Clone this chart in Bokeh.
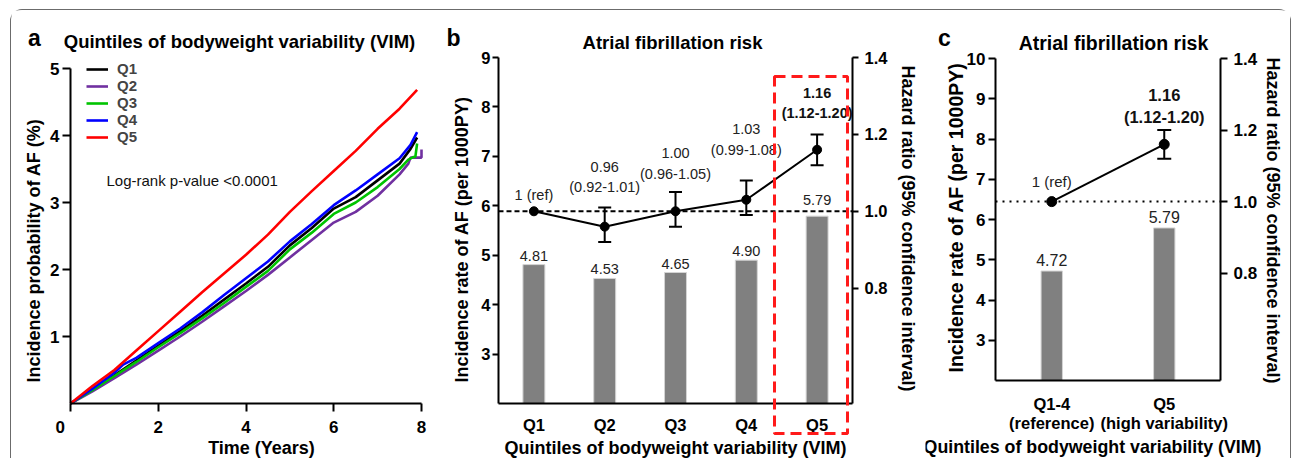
from math import pi
from bokeh.plotting import figure
from bokeh.models import (Range1d, LinearAxis, FixedTicker, ColumnDataSource,
                          Whisker, TeeHead, BoxAnnotation, Label, Legend, LegendItem,
                          PrintfTickFormatter)
from bokeh.layouts import row
from bokeh.embed import file_html
from bokeh.resources import INLINE
from bokeh.core.properties import value

FONT = "Liberation Sans"

# ---------------- data: panel a (cumulative incidence, %) ----------------
km_names = ["Q1", "Q2", "Q3", "Q4", "Q5"]
km_colors = ["#000000", "#7030a0", "#00c400", "#0000ff", "#ff0000"]
q1_time = [0, 0.5, 1, 1.5, 2, 2.5, 3, 3.5, 4, 4.5, 5, 5.5, 6, 6.5, 7, 7.5, 7.75, 7.9]
q1_prob = [0, 0.21, 0.42, 0.64, 0.86, 1.08, 1.31, 1.55, 1.79, 2.04, 2.36, 2.62, 2.91, 3.08, 3.33, 3.58, 3.80, 3.97]
q2_time = [0, 0.5, 1, 1.5, 2, 2.5, 3, 3.5, 4, 4.5, 5, 5.5, 6, 6.5, 7, 7.5, 7.7, 7.75, 8.0, 8.0]
q2_prob = [0, 0.18, 0.38, 0.58, 0.79, 1.00, 1.22, 1.45, 1.68, 1.92, 2.18, 2.44, 2.70, 2.86, 3.10, 3.42, 3.58, 3.67, 3.67, 3.79]
q3_time = [0, 0.5, 1, 1.5, 2, 2.5, 3, 3.5, 4, 4.5, 5, 5.5, 6, 6.5, 7, 7.5, 7.7, 7.82, 7.86, 7.9]
q3_prob = [0, 0.20, 0.41, 0.62, 0.84, 1.05, 1.27, 1.50, 1.74, 1.98, 2.30, 2.55, 2.83, 3.00, 3.23, 3.50, 3.64, 3.68, 3.68, 3.88]
q4_time = [0, 0.5, 1, 1.2, 1.5, 2, 2.5, 3, 3.5, 4, 4.5, 5, 5.5, 6, 6.5, 7, 7.5, 7.75, 7.9]
q4_prob = [0, 0.22, 0.46, 0.58, 0.68, 0.90, 1.12, 1.36, 1.62, 1.87, 2.12, 2.42, 2.68, 2.96, 3.18, 3.42, 3.66, 3.86, 4.05]
q5_time = [0, 0.5, 1, 1.5, 2, 2.5, 3, 3.5, 4, 4.5, 5, 5.5, 6, 6.5, 7, 7.5, 7.9]
q5_prob = [0, 0.26, 0.50, 0.79, 1.08, 1.37, 1.66, 1.94, 2.22, 2.52, 2.86, 3.17, 3.47, 3.77, 4.10, 4.40, 4.68]
km_time = [q1_time, q2_time, q3_time, q4_time, q5_time]
km_prob = [q1_prob, q2_prob, q3_prob, q4_prob, q5_prob]
km_xticks = [0, 2, 4, 6, 8]
km_yticks = [1, 2, 3, 4, 5]

# ---------------- data: panel b ----------------
quintiles = ["Q1", "Q2", "Q3", "Q4", "Q5"]
incidence_b = [4.81, 4.53, 4.65, 4.90, 5.79]
hr_b = [1.00, 0.96, 1.00, 1.03, 1.16]
hr_low_b = [None, 0.92, 0.96, 0.99, 1.12]
hr_up_b = [None, 1.01, 1.05, 1.08, 1.20]

# ---------------- data: panel c ----------------
groups_c = ["Q1-4", "Q5"]
group_sub_c = ["(reference)", "(high variability)"]
incidence_c = [4.72, 5.79]
hr_c = [1.00, 1.16]
hr_low_c = [None, 1.12]
hr_up_c = [None, 1.20]

inc_ticks_b = [3, 4, 5, 6, 7, 8, 9]
inc_ticks_c = [3, 4, 5, 6, 7, 8, 9, 10]
hr_ticks = [0.8, 1.0, 1.2, 1.4]

# ---------------- layout geometry (page pixels) ----------------
TOP, BOTTOM = 10, 458
CANVAS = {"a": (11, 440), "b": (440, 925), "c": (925, 1290)}
AXBOX = {  # pixel positions of the axis bounds: left, right, top, bottom
    "a": (70, 421, 68, 403),
    "b": (498, 852, 57, 403),
    "c": (995, 1220, 58, 380),
}


def xr_full(key, lo, hi):
    L, R, _, _ = AXBOX[key]
    cl, cr = CANVAS[key]
    s = (hi - lo) / (R - L)
    return Range1d(lo + (cl - L) * s, lo + (cr - L) * s)


def yr_full(key, lo, hi):
    _, _, T, B = AXBOX[key]
    s = (hi - lo) / (B - T)
    return Range1d(lo - (BOTTOM - B) * s, hi + (T - TOP) * s)


def converter(key, xb, yb):
    L, R, T, B = AXBOX[key]

    def conv(gx, gy):
        x = xb[0] + (gx - L) / (R - L) * (xb[1] - xb[0])
        y = yb[0] + (B - gy) / (B - T) * (yb[1] - yb[0])
        return x, y
    return conv


def make_fig(key, xb, yb):
    cl, cr = CANVAS[key]
    p = figure(width=cr - cl, height=BOTTOM - TOP, x_range=xr_full(key, *xb),
               y_range=yr_full(key, *yb), output_backend="svg", toolbar_location=None,
               title=None, min_border=0)
    p.outline_line_color = None
    p.xgrid.visible = False
    p.ygrid.visible = False
    p.background_fill_color = "white"
    p.border_fill_color = "white"
    p.xaxis.fixed_location = yb[0]
    p.xaxis.bounds = xb
    p.yaxis.fixed_location = xb[0]
    p.yaxis.bounds = yb
    return p


def style_axis(ax, size, tick_out, standoff):
    ax.axis_line_width = 2
    ax.axis_line_color = "black"
    ax.major_tick_line_width = 2
    ax.major_tick_line_color = "black"
    ax.major_tick_in = 0
    ax.major_tick_out = tick_out
    ax.minor_tick_line_color = None
    ax.major_label_standoff = standoff
    ax.major_label_text_font = FONT
    ax.major_label_text_font_size = f"{size}px"
    ax.major_label_text_font_style = "bold"
    ax.major_label_text_color = "black"


def label(p, conv, gx, gy, text, size, bold=True, angle=0.0, align="center",
          baseline="middle", color="black", **kw):
    x, y = conv(gx, gy)
    p.add_layout(Label(x=x, y=y, text=text, text_font=FONT, text_font_size=f"{size}px",
                       text_font_style="bold" if bold else "normal", angle=angle,
                       text_align=align, text_baseline=baseline, text_color=color, **kw))


# =============== panel a ===============
xb_a, yb_a = (0, 8), (0, 5)
pa = make_fig("a", xb_a, yb_a)
ca = converter("a", xb_a, yb_a)
pa.xaxis.ticker = FixedTicker(ticks=km_xticks)
pa.yaxis.ticker = FixedTicker(ticks=km_yticks)
pa.xaxis.major_label_overrides = {0: "0\u2003\u2009"}
style_axis(pa.xaxis[0], 17, 8, 6)
style_axis(pa.yaxis[0], 17, 8, 3)

items = []
for name, col, t, v in zip(km_names, km_colors, km_time, km_prob):
    r = pa.line(t, v, line_color=col, line_width=2.6)
    items.append(LegendItem(label=name, renderers=[r]))
leg = Legend(items=items, location=(75, 313), padding=0, margin=0, spacing=-4,
             glyph_width=22, glyph_height=14, label_height=14, label_standoff=9,
             label_text_font=FONT, label_text_font_size="15px", label_text_font_style="bold",
             label_text_line_height=0.95,
             border_line_color=None, background_fill_alpha=0)
pa.add_layout(leg)

label(pa, ca, 34, 37, "a", 23, baseline="alphabetic")
label(pa, ca, 239, 41, "Quintiles of bodyweight variability (VIM)", 18.5, baseline="alphabetic")
label(pa, ca, 106, 180, "Log-rank p-value <0.0001", 15, bold=False, align="left", color="#111")
label(pa, ca, 33, 250, "Incidence probability of AF (%)", 18, angle=pi / 2)
label(pa, ca, 261, 447, "Time (Years)", 18, baseline="alphabetic")

# =============== panel b ===============
xb_b, yb_b, hb_b = (0, len(quintiles)), (2, 9), (0.5, 1.4)
pb = make_fig("b", xb_b, yb_b)
cb = converter("b", xb_b, yb_b)
pb.extra_y_ranges = {"hr": yr_full("b", *hb_b)}
xpos_b = [i + 0.5 for i in range(len(quintiles))]
pb.xaxis.ticker = FixedTicker(ticks=xpos_b)
pb.xaxis.major_label_overrides = dict(zip(xpos_b, quintiles))
pb.yaxis.ticker = FixedTicker(ticks=inc_ticks_b)
style_axis(pb.yaxis[0], 16.5, 6, 2)
style_axis(pb.xaxis[0], 16.5, 0, 12)
rax = LinearAxis(y_range_name="hr", ticker=FixedTicker(ticks=hr_ticks),
                 formatter=PrintfTickFormatter(format="%.1f"),
                 fixed_location=xb_b[1], bounds=hb_b)
style_axis(rax, 16.5, 6, 6)
pb.add_layout(rax, "right")

pb.vbar(x=xpos_b, top=incidence_b, bottom=yb_b[0], width=0.31,
        fill_color="#808080", line_color="#d4d4d4", line_width=1)
bar_lift_b = [4, 4, 4, 4, 11]
pb.text(x=xpos_b, y=incidence_b, text=[f"{v:.2f}" for v in incidence_b],
        y_offset=[-l for l in bar_lift_b], text_align="center", text_baseline="bottom",
        text_font=value(FONT), text_font_size="14.5px", text_color="#222")

pb.segment(x0=[xb_b[0]], x1=[xb_b[1]], y0=[1.0], y1=[1.0], y_range_name="hr",
           line_color="black", line_width=2, line_dash="5 3")
pb.line(xpos_b, hr_b, y_range_name="hr", line_color="black", line_width=2)
wi = [i for i, lo in enumerate(hr_low_b) if lo is not None]
wsrc_b = ColumnDataSource(dict(base=[xpos_b[i] for i in wi], lower=[hr_low_b[i] for i in wi],
                               upper=[hr_up_b[i] for i in wi]))
pb.add_layout(Whisker(base="base", lower="lower", upper="upper", source=wsrc_b, y_range_name="hr",
                      line_width=2, line_color="black",
                      upper_head=TeeHead(size=13, line_width=2, line_color="black"),
                      lower_head=TeeHead(size=13, line_width=2, line_color="black")))
pb.scatter(xpos_b, hr_b, y_range_name="hr", size=9, fill_color="black", line_color="black")

hr_text_b = ["1 (ref)" if lo is None else f"{h:.2f}\n({lo:.2f}-{up:.2f})"
             for h, lo, up in zip(hr_b, hr_low_b, hr_up_b)]
hr_anchor_b = [h if up is None else up for h, up in zip(hr_b, hr_up_b)]
hr_lift_b = [8, 12, 10, 23, 13]
n = len(quintiles)
normal_idx = list(range(n - 1))
pb.text(x=[xpos_b[i] for i in normal_idx], y=[hr_anchor_b[i] for i in normal_idx],
        text=[hr_text_b[i] for i in normal_idx], y_offset=[-hr_lift_b[i] for i in normal_idx],
        y_range_name="hr", text_align="center", text_baseline="bottom", text_line_height=1.3,
        text_font=value(FONT), text_font_size="14.5px", text_color="#222")
pb.text(x=[xpos_b[-1]], y=[hr_anchor_b[-1]], text=[hr_text_b[-1]], y_offset=[-hr_lift_b[-1]],
        y_range_name="hr", text_align="center", text_baseline="bottom", text_line_height=1.3,
        text_font=value(FONT), text_font_size="14.5px", text_font_style="bold", text_color="#111")

# highlight box around Q5
bl, bt = cb(774, 76)
br, bbm = cb(847, 433)
pb.add_layout(BoxAnnotation(left=bl, right=br, top=bt, bottom=bbm, fill_alpha=0,
                            line_color="#ff1a1a", line_alpha=1.0, line_width=3, line_dash="11 6"))

label(pb, cb, 453, 37, "b", 23, baseline="alphabetic")
label(pb, cb, 672, 42, "Atrial fibrillation risk", 18.5, baseline="alphabetic")
label(pb, cb, 461, 239, "Incidence rate of AF (per 1000PY)", 18, angle=pi / 2)
label(pb, cb, 907, 228, "Hazard ratio (95% confidence interval)", 18, angle=-pi / 2)
label(pb, cb, 675, 447, "Quintiles of bodyweight variability (VIM)", 18, baseline="alphabetic")

# =============== panel c ===============
xb_c, yb_c, hb_c = (0, len(groups_c)), (2, 10), (0.5, 1.4)
pc = make_fig("c", xb_c, yb_c)
cc = converter("c", xb_c, yb_c)
pc.extra_y_ranges = {"hr": yr_full("c", *hb_c)}
xpos_c = [i + 0.5 for i in range(len(groups_c))]
pc.xaxis.ticker = FixedTicker(ticks=xpos_c)
pc.xaxis.major_label_overrides = dict(zip(xpos_c, groups_c))
pc.yaxis.ticker = FixedTicker(ticks=inc_ticks_c)
style_axis(pc.yaxis[0], 17, 7, 3)
style_axis(pc.xaxis[0], 16.5, 0, 14)
rax_c = LinearAxis(y_range_name="hr", ticker=FixedTicker(ticks=hr_ticks),
                   formatter=PrintfTickFormatter(format="%.1f"),
                   fixed_location=xb_c[1], bounds=hb_c)
style_axis(rax_c, 17, 7, 6)
pc.add_layout(rax_c, "right")

pc.vbar(x=xpos_c, top=incidence_c, bottom=yb_c[0], width=0.19,
        fill_color="#808080", line_color="#d4d4d4", line_width=1)
pc.text(x=xpos_c, y=incidence_c, text=[f"{v:.2f}" for v in incidence_c], y_offset=-5,
        text_align="center", text_baseline="bottom",
        text_font=value(FONT), text_font_size="16px", text_color="#222")

pc.segment(x0=[xb_c[0]], x1=[xb_c[1]], y0=[1.0], y1=[1.0], y_range_name="hr",
           line_color="black", line_width=2, line_dash="2 5")
pc.line(xpos_c, hr_c, y_range_name="hr", line_color="black", line_width=2)
wi_c = [i for i, lo in enumerate(hr_low_c) if lo is not None]
wsrc_c = ColumnDataSource(dict(base=[xpos_c[i] for i in wi_c], lower=[hr_low_c[i] for i in wi_c],
                               upper=[hr_up_c[i] for i in wi_c]))
pc.add_layout(Whisker(base="base", lower="lower", upper="upper", source=wsrc_c, y_range_name="hr",
                      line_width=2, line_color="black",
                      upper_head=TeeHead(size=14, line_width=2, line_color="black"),
                      lower_head=TeeHead(size=14, line_width=2, line_color="black")))
pc.scatter(xpos_c, hr_c, y_range_name="hr", size=10, fill_color="black", line_color="black")
hr_text_c = ["1 (ref)" if lo is None else f"{h:.2f}\n({lo:.2f}-{up:.2f})"
             for h, lo, up in zip(hr_c, hr_low_c, hr_up_c)]
hr_anchor_c = [h if up is None else up for h, up in zip(hr_c, hr_up_c)]
pc.text(x=[xpos_c[0]], y=[hr_anchor_c[0]], text=[hr_text_c[0]], y_offset=[-12],
        y_range_name="hr", text_align="center", text_baseline="bottom",
        text_font=value(FONT), text_font_size="15px", text_color="#222")
pc.text(x=[xpos_c[1]], y=[hr_anchor_c[1]], text=[hr_text_c[1]], y_offset=[-4],
        y_range_name="hr", text_align="center", text_baseline="bottom", text_line_height=1.25,
        text_font=value(FONT), text_font_size="16.5px", text_font_style="bold", text_color="#111")

for xp, sub in zip(xpos_c, group_sub_c):
    pc.add_layout(Label(x=xp, y=cc(0, 422)[1], text=sub, text_font=FONT,
                        text_font_size="16.5px", text_font_style="bold",
                        text_align="center", text_baseline="middle", text_color="black"))

label(pc, cc, 944, 37, "c", 23, baseline="alphabetic")
label(pc, cc, 1113, 42, "Atrial fibrillation risk", 19.5, baseline="alphabetic")
label(pc, cc, 955, 217, "Incidence rate of AF (per 1000PY)", 19.5, angle=pi / 2)
label(pc, cc, 1272, 220, "Hazard ratio (95% confidence interval)", 18, angle=-pi / 2)
label(pc, cc, 1092, 446, "Quintiles of bodyweight variability (VIM)", 17.8, baseline="alphabetic")

layout = row(pa, pb, pc, styles={"margin-left": "10px", "margin-top": "9px",
                                 "border": "1px solid #6b6b6b", "border-bottom": "none",
                                 "border-radius": "12px 12px 0 0"})

open("out.html", "w").write(file_html(layout, INLINE))
